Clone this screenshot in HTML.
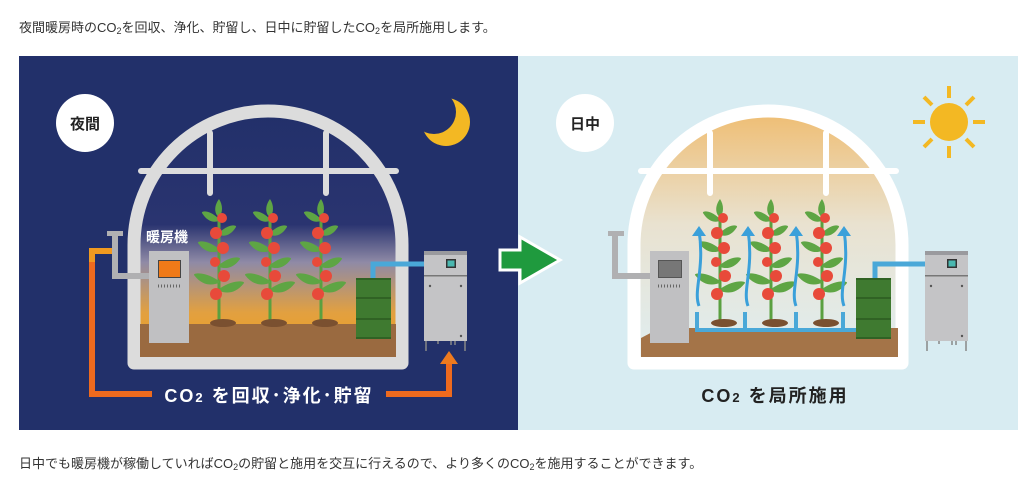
<!DOCTYPE html>
<html><head><meta charset="utf-8"><style>
html,body{margin:0;padding:0;background:#fff;width:1036px;height:483px;overflow:hidden}
.t{position:absolute;left:19px;font:13px "Liberation Sans","Noto Sans CJK JP",sans-serif;color:#333;white-space:nowrap}
sub{font-size:9px;vertical-align:-2px}
</style></head><body>
<div class="t" style="top:17px">夜間暖房時のCO<sub>2</sub>を回収、浄化、貯留し、日中に貯留したCO<sub>2</sub>を局所施用します。</div>
<div class="t" style="top:453px">日中でも暖房機が稼働していればCO<sub>2</sub>の貯留と施用を交互に行えるので、より多くのCO<sub>2</sub>を施用することができます。</div>
<svg style="position:absolute;left:0;top:0" width="1036" height="483" viewBox="0 0 1036 483">
<defs>
<linearGradient id="ng" x1="0" y1="0" x2="0" y2="1"><stop offset="0" stop-color="#22306a"/><stop offset="0.45" stop-color="#2a3470"/><stop offset="0.6" stop-color="#8f8aa6"/><stop offset="0.8" stop-color="#e2a040"/><stop offset="1" stop-color="#f0a018"/></linearGradient>
<linearGradient id="dg" x1="0" y1="0" x2="0" y2="1"><stop offset="0" stop-color="#efbd72"/><stop offset="0.45" stop-color="#e9e2d0"/><stop offset="1" stop-color="#dfeef2"/></linearGradient>
<g id="plant">
<path d="M0,127 L0,5" stroke="#5aa040" stroke-width="3"/>
<ellipse cx="4" cy="124" rx="13" ry="4" fill="#7a5030"/>
<path d="M0,0 C-6,8 -4,16 0,18 C4,14 4,6 0,0Z" fill="#5ea544"/>
<path d="M0,20 C-10,10 -18,12 -17,14 C-12,22 -6,24 0,22Z M0,34 C10,24 18,26 17,28 C12,36 6,38 0,36Z M0,50 C-12,40 -22,42 -21,44 C-14,54 -6,54 0,52Z M0,66 C12,56 22,58 21,60 C14,70 6,70 0,68Z M0,82 C-14,72 -26,74 -25,76 C-16,88 -6,86 0,84Z M0,90 C14,80 26,82 25,84 C16,96 6,94 0,92Z" fill="#5ea544"/>
<circle cx="3" cy="19" r="5" fill="#e84a3a"/><circle cx="-3" cy="34" r="6" fill="#e84a3a"/><circle cx="4" cy="49" r="6" fill="#e84a3a"/><circle cx="-4" cy="63" r="5" fill="#e84a3a"/><circle cx="5" cy="77" r="6" fill="#e84a3a"/><circle cx="-3" cy="95" r="6" fill="#e84a3a"/>
</g>
<g id="mach">
<rect x="0" y="0" width="43" height="90" fill="#c4c4c6"/><rect x="0" y="0" width="43" height="4" fill="#9a9a9e"/><rect x="0" y="24" width="43" height="1.5" fill="#777"/>
<rect x="22" y="8" width="10" height="9" fill="#333"/><rect x="23.5" y="9.5" width="7" height="6" fill="#4ab8b0"/>
<circle cx="6" cy="35" r="1.2" fill="#555"/><circle cx="37" cy="35" r="1.2" fill="#555"/><circle cx="37" cy="85" r="1.2" fill="#555"/>
<path d="M2,90 V100 M41,90 V100 M14,90 V93 M27,90 V94 M31,90 V94" stroke="#888" stroke-width="1.5"/>
</g>
<g id="tank"><rect x="0" y="0" width="35" height="61" fill="#3f7a30"/><path d="M0,1 H35 M0,20 H35 M0,41 H35 M0,60 H35" stroke="#2c5a20" stroke-width="1.5"/></g>
</defs>
<rect x="19" y="56" width="499" height="374" fill="#22306a"/>
<rect x="518" y="56" width="500" height="374" fill="#d8ecf2"/>
<!-- night -->
<circle cx="85" cy="123" r="29" fill="#fff"/>
<text x="85" y="129" text-anchor="middle" font-family="Liberation Sans,Noto Sans CJK JP,sans-serif" font-weight="bold" font-size="15" fill="#222">夜間</text>
<circle cx="446" cy="122" r="24" fill="#f3b823"/><circle cx="434" cy="112" r="22" fill="#22306a"/>
<path d="M134,363 V245 A134,134 0 0 1 402,245 V363 Z" fill="url(#ng)" stroke="#dcdcdc" stroke-width="13" stroke-linejoin="round"/>
<path d="M141,171 H396 M210,133 V193 M326,133 V193" stroke="#dcdcdc" stroke-width="6" stroke-linecap="round"/>
<rect x="140" y="324" width="256" height="33" fill="#9a6a40"/>
<use href="#plant" x="219" y="199"/><use href="#plant" x="270" y="199"/><use href="#plant" x="321" y="199"/>
<path d="M114,251 H92 V394 H152 M386,394 H449 V364" fill="none" stroke="#ee6a1e" stroke-width="6"/>
<path d="M114,251 H92 V262" fill="none" stroke="#f09a20" stroke-width="6"/>
<path d="M440,364 L449,351 L458,364Z" fill="#ee7a1e"/>
<path d="M115,236 V276 H150" fill="none" stroke="#b0b0b2" stroke-width="6"/><rect x="107" y="231" width="16" height="5" fill="#b0b0b2"/>
<rect x="149" y="251" width="40" height="92" fill="#c0c0c2"/><rect x="158" y="260" width="23" height="18" fill="#444"/><rect x="159" y="261" width="21" height="16" fill="#f07a18"/>
<path d="M158,286 H182" stroke="#666" stroke-width="3" stroke-dasharray="1,2"/>
<text x="146" y="242" font-family="Liberation Sans,Noto Sans CJK JP,sans-serif" font-weight="bold" font-size="14" fill="#fff">暖房機</text>
<path d="M373,278 V264 H425" fill="none" stroke="#4aa8d8" stroke-width="5"/>
<use href="#tank" x="356" y="278"/>
<use href="#mach" x="424" y="251"/>
<text x="269" y="402" text-anchor="middle" font-family="Liberation Sans,Noto Sans CJK JP,sans-serif" font-weight="bold" font-size="18" fill="#fff" letter-spacing="2">CO<tspan font-size="13">2</tspan> を回収･浄化･貯留</text>
<!-- arrow -->
<path d="M500,250 H520 V237 L560,260 L520,283 V270 H500Z" fill="#1f9a3e" stroke="#fff" stroke-width="3"/>
<!-- day -->
<circle cx="585" cy="123" r="29" fill="#fff"/>
<text x="585" y="129" text-anchor="middle" font-family="Liberation Sans,Noto Sans CJK JP,sans-serif" font-weight="bold" font-size="15" fill="#222">日中</text>
<circle cx="949" cy="122" r="19" fill="#f3b823"/>
<g stroke="#f3b823" stroke-width="4"><path d="M949,86 V98 M949,146 V158 M913,122 H925 M973,122 H985 M924,97 L932,105 M966,139 L974,147 M974,97 L966,105 M932,139 L924,147"/></g>
<path d="M634,363 V245 A134,134 0 0 1 902,245 V363 Z" fill="url(#dg)" stroke="#fff" stroke-width="13" stroke-linejoin="round"/>
<path d="M641,171 H896 M710,133 V193 M826,133 V193" stroke="#fff" stroke-width="6" stroke-linecap="round"/>
<path d="M641,338 L660,328 H898 V357 H641Z" fill="#a47448"/>
<use href="#plant" x="720" y="199"/><use href="#plant" x="771" y="199"/><use href="#plant" x="822" y="199"/>
<path d="M697,312 V330 H858 M745,312 V330 M796,312 V330 M843,312 V330" fill="none" stroke="#4aa8d8" stroke-width="4"/>
<g fill="none" stroke="#3aa0da" stroke-width="3"><path d="M699,306 C693,290 705,270 699,230"/><path d="M748,306 C742,290 754,270 748,230"/><path d="M796,306 C790,290 802,270 796,230"/><path d="M844,306 C838,290 850,270 844,230"/></g>
<g fill="#3aa0da"><path d="M692,236 L699,226 L706,236Z"/><path d="M741,236 L748,226 L755,236Z"/><path d="M789,236 L796,226 L803,236Z"/><path d="M837,236 L844,226 L851,236Z"/></g>
<path d="M615,236 V276 H651" fill="none" stroke="#b0b0b2" stroke-width="6"/><rect x="608" y="231" width="16" height="5" fill="#b0b0b2"/>
<rect x="650" y="251" width="39" height="92" fill="#c0c0c2"/><rect x="658" y="260" width="24" height="18" fill="#555"/><rect x="659" y="261" width="22" height="16" fill="#777"/>
<path d="M658,286 H682" stroke="#666" stroke-width="3" stroke-dasharray="1,2"/>
<path d="M875,278 V264 H925" fill="none" stroke="#4aa8d8" stroke-width="5"/>
<use href="#tank" x="856" y="278"/>
<use href="#mach" x="925" y="251"/>
<text x="775" y="402" text-anchor="middle" font-family="Liberation Sans,Noto Sans CJK JP,sans-serif" font-weight="bold" font-size="18" fill="#222" letter-spacing="2">CO<tspan font-size="13">2</tspan> を局所施用</text>
</svg>
</body></html>
